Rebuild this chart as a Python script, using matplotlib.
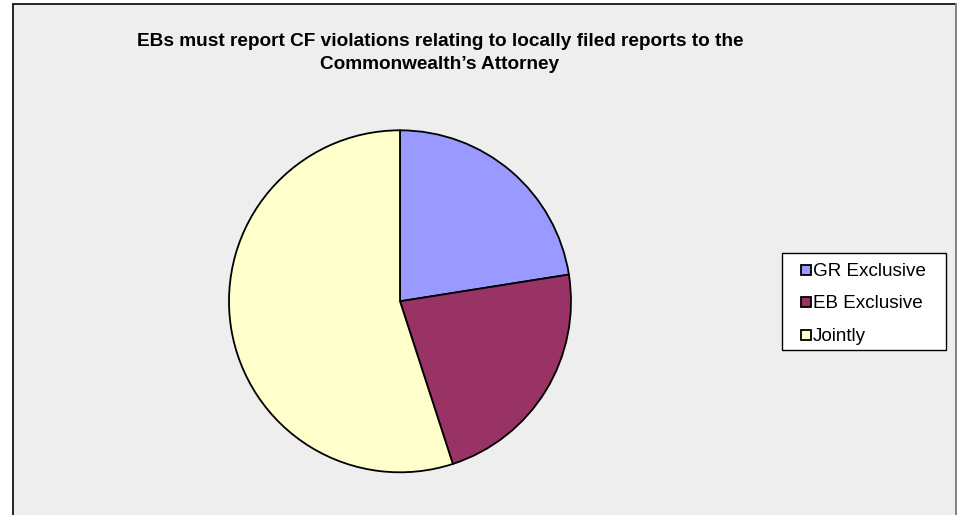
import matplotlib.pyplot as plt
from matplotlib.patches import Rectangle

# data
labels = ['GR Exclusive', 'EB Exclusive', 'Jointly']
values = [9, 9, 22]
colors = ['#9999FF', '#993366', '#FFFFCC']
title_lines = ['EBs must report CF violations relating to locally filed reports to the',
               'Commonwealth\u2019s Attorney']

plt.rcParams['font.family'] = ['Liberation Sans', 'DejaVu Sans']

W, H = 957, 515
fig = plt.figure(figsize=(W / 100, H / 100), dpi=100)
fig.patch.set_facecolor('white')

# background axes for the chart area, pixel coordinates (y down)
bg = fig.add_axes([0, 0, 1, 1], zorder=-1)
bg.set_xlim(0, W)
bg.set_ylim(H, 0)
bg.axis('off')
bg.add_patch(Rectangle((12.5, 4), 956 - 12.5, H + 10, facecolor='#EEEEEE',
                       edgecolor='black', linewidth=1.2))
bg.plot([956, 956], [4, H], color='#999999', linewidth=1.2)

# pie axes: center (400, 301.3), radius 171 px
cx, cy, r = 400, 301.3, 171
pad = 1.02
ax = fig.add_axes([(cx - r * pad) / W, 1 - (cy + r * pad) / H,
                   2 * r * pad / W, 2 * r * pad / H], zorder=1)
ax.pie(values, colors=colors, startangle=90, counterclock=False,
       wedgeprops=dict(edgecolor='black', linewidth=1.3))
ax.set_xlim(-pad, pad)
ax.set_ylim(-pad, pad)
ax.set_aspect('equal')
ax.axis('off')

# title
for line, ybase in zip(title_lines, [45.5, 69]):
    bg.text(440, ybase, line, ha='center', va='baseline', fontsize=13.7,
            fontweight='bold')

# legend (drawn by hand to match the box geometry)
bg.add_patch(Rectangle((782, 253), 946 - 782, 350 - 253, facecolor='white',
                       edgecolor='black', linewidth=1.0, zorder=3))
for i, (lab, c) in enumerate(zip(labels, colors)):
    yy = 270 + i * 32.3
    bg.plot([806], [yy], marker='s', markersize=6.8, markerfacecolor=c,
            markeredgecolor='black', markeredgewidth=1.3, zorder=4)
    bg.text(813, yy + 1.5, lab, ha='left', va='center', fontsize=13.6, zorder=4)

fig.savefig('out.png', dpi=100, facecolor='white')
